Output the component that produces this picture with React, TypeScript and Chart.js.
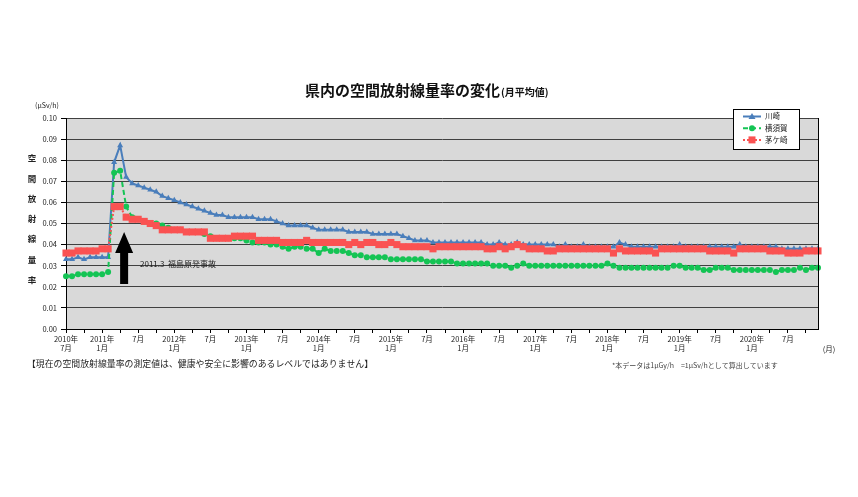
import React, { useEffect, useRef } from 'react';
import { Chart, registerables } from 'chart.js';
Chart.register(...registerables);

const FONT = '"Noto Sans CJK JP", "Noto Sans", sans-serif';

const TITLE_MAIN = '県内の空間放射線量率の変化';
const TITLE_SUB = '(月平均値)';
const Y_LABEL_CHARS = ['空', '間', '放', '射', '線', '量', '率'];
const UNIT = '(μSv/h)';
const X_UNIT = '(月)';
const NOTE_LEFT = '【現在の空間放射線量率の測定値は、健康や安全に影響のあるレベルではありません】';
const NOTE_RIGHT = '*本データは1μGy/h　=1μSv/hとして算出しています';
const EVENT_TEXT = '2011.3  福島原発事故';
const EVENT_INDEX = 8;
const SERIES_NAMES = ['川崎', '横須賀', '茅ケ崎'];

const START_YEAR = 2010;
const START_MONTH = 7;
const MONTH_COUNT = 126;

const X_TICK_LABELS = [
  ['2010年', '7月'], ['2011年', '1月'], ['7月', ''], ['2012年', '1月'], ['7月', ''],
  ['2013年', '1月'], ['7月', ''], ['2014年', '1月'], ['7月', ''], ['2015年', '1月'], ['7月', ''],
  ['2016年', '1月'], ['7月', ''], ['2017年', '1月'], ['7月', ''], ['2018年', '1月'], ['7月', ''],
  ['2019年', '1月'], ['7月', ''], ['2020年', '1月'], ['7月', ''],
];

const KAWASAKI = [
  0.033, 0.033, 0.034, 0.033, 0.034, 0.034,
  0.034, 0.034, 0.079, 0.087, 0.072, 0.069, 0.068, 0.067, 0.066, 0.065, 0.063, 0.062,
  0.061, 0.060, 0.059, 0.058, 0.057, 0.056, 0.055, 0.054, 0.054, 0.053, 0.053, 0.053,
  0.053, 0.053, 0.052, 0.052, 0.052, 0.051, 0.050, 0.049, 0.049, 0.049, 0.049, 0.048,
  0.047, 0.047, 0.047, 0.047, 0.047, 0.046, 0.046, 0.046, 0.046, 0.045, 0.045, 0.045,
  0.045, 0.045, 0.044, 0.043, 0.042, 0.042, 0.042, 0.041, 0.041, 0.041, 0.041, 0.041,
  0.041, 0.041, 0.041, 0.041, 0.040, 0.040, 0.041, 0.040, 0.040, 0.041, 0.040, 0.040,
  0.040, 0.040, 0.040, 0.040, 0.039, 0.040, 0.039, 0.039, 0.040, 0.039, 0.039, 0.039,
  0.039, 0.039, 0.041, 0.040, 0.039, 0.039, 0.039, 0.039, 0.039, 0.039, 0.039, 0.039,
  0.040, 0.039, 0.039, 0.039, 0.039, 0.039, 0.039, 0.039, 0.039, 0.039, 0.040, 0.039,
  0.039, 0.039, 0.039, 0.039, 0.039, 0.038, 0.038, 0.038, 0.038, 0.038, 0.038, 0.038,
];

const YOKOSUKA = [
  0.025, 0.025, 0.026, 0.026, 0.026, 0.026,
  0.026, 0.027, 0.074, 0.075, 0.058, 0.053, 0.052, 0.051, 0.050, 0.050, 0.049, 0.048,
  0.047, 0.047, 0.046, 0.046, 0.046, 0.045, 0.044, 0.043, 0.043, 0.043, 0.043, 0.043,
  0.042, 0.041, 0.041, 0.041, 0.040, 0.040, 0.039, 0.038, 0.039, 0.039, 0.038, 0.038,
  0.036, 0.038, 0.037, 0.037, 0.037, 0.036, 0.035, 0.035, 0.034, 0.034, 0.034, 0.034,
  0.033, 0.033, 0.033, 0.033, 0.033, 0.033, 0.032, 0.032, 0.032, 0.032, 0.032, 0.031,
  0.031, 0.031, 0.031, 0.031, 0.031, 0.030, 0.030, 0.030, 0.029, 0.030, 0.031, 0.030,
  0.030, 0.030, 0.030, 0.030, 0.030, 0.030, 0.030, 0.030, 0.030, 0.030, 0.030, 0.030,
  0.031, 0.030, 0.029, 0.029, 0.029, 0.029, 0.029, 0.029, 0.029, 0.029, 0.029, 0.030,
  0.030, 0.029, 0.029, 0.029, 0.028, 0.028, 0.029, 0.029, 0.029, 0.028, 0.028, 0.028,
  0.028, 0.028, 0.028, 0.028, 0.027, 0.028, 0.028, 0.028, 0.029, 0.028, 0.029, 0.029,
];

const CHIGASAKI = [
  0.036, 0.036, 0.037, 0.037, 0.037, 0.037,
  0.038, 0.038, 0.058, 0.058, 0.053, 0.052, 0.052, 0.051, 0.050, 0.049, 0.047, 0.047,
  0.047, 0.047, 0.046, 0.046, 0.046, 0.046, 0.043, 0.043, 0.043, 0.043, 0.044, 0.044,
  0.044, 0.044, 0.042, 0.042, 0.042, 0.042, 0.041, 0.041, 0.041, 0.041, 0.042, 0.041,
  0.041, 0.041, 0.041, 0.041, 0.041, 0.040, 0.041, 0.040, 0.041, 0.041, 0.040, 0.040,
  0.041, 0.040, 0.039, 0.039, 0.039, 0.039, 0.039, 0.038, 0.039, 0.039, 0.039, 0.039,
  0.039, 0.039, 0.039, 0.039, 0.038, 0.038, 0.039, 0.038, 0.039, 0.040, 0.039, 0.038,
  0.038, 0.038, 0.037, 0.037, 0.038, 0.038, 0.038, 0.038, 0.038, 0.038, 0.038, 0.038,
  0.038, 0.036, 0.038, 0.037, 0.037, 0.037, 0.037, 0.037, 0.036, 0.038, 0.038, 0.038,
  0.038, 0.038, 0.038, 0.038, 0.038, 0.037, 0.037, 0.037, 0.037, 0.036, 0.038, 0.038,
  0.038, 0.038, 0.038, 0.037, 0.037, 0.037, 0.036, 0.036, 0.036, 0.037, 0.037, 0.037,
];

const MONTHS: string[] = [];
for (let i = 0; i < MONTH_COUNT; i++) {
  const t = START_MONTH - 1 + i;
  MONTHS.push(`${START_YEAR + Math.floor(t / 12)}-${(t % 12) + 1}`);
}

const BLUE = '#4A7EBB';
const GREEN = '#14C454';
const RED = '#FA5252';

const PLOT = { left: 66, right: 818, top: 118, bottom: 329 };
const W = 858;
const H = 497;

function drawMarker(ctx: CanvasRenderingContext2D, style: string, x: number, y: number, color: string) {
  ctx.fillStyle = color;
  ctx.beginPath();
  if (style === 'triangle') {
    ctx.moveTo(x, y - 3.5);
    ctx.lineTo(x + 3.5, y + 2.5);
    ctx.lineTo(x - 3.5, y + 2.5);
    ctx.closePath();
  } else if (style === 'circle') {
    ctx.arc(x, y, 3, 0, Math.PI * 2);
  } else {
    ctx.rect(x - 3.5, y - 3.5, 7, 7);
  }
  ctx.fill();
}

const deco = {
  id: 'deco',
  beforeDraw(chart: any) {
    const { ctx, chartArea: a } = chart;
    ctx.save();
    ctx.fillStyle = '#ffffff';
    ctx.fillRect(0, 0, chart.width, chart.height);
    ctx.fillStyle = '#D9D9D9';
    ctx.fillRect(a.left, a.top, a.right - a.left, a.bottom - a.top);
    ctx.restore();
  },
  afterDraw(chart: any) {
    const { ctx, chartArea: a } = chart;
    const xs = chart.scales.x;
    ctx.save();
    // frame right edge
    ctx.strokeStyle = '#000';
    ctx.lineWidth = 1;
    ctx.beginPath();
    ctx.moveTo(Math.round(a.right) + 0.5, a.top);
    ctx.lineTo(Math.round(a.right) + 0.5, a.bottom);
    ctx.stroke();

    // title
    ctx.fillStyle = '#111';
    ctx.textBaseline = 'alphabetic';
    ctx.textAlign = 'left';
    ctx.font = `bold 15px ${FONT}`;
    const w1 = ctx.measureText(TITLE_MAIN).width;
    ctx.fillText(TITLE_MAIN, 305, 96);
    ctx.font = `bold 10px ${FONT}`;
    ctx.fillText(TITLE_SUB, 305 + w1 + 1, 96);

    // unit
    ctx.font = `7px ${FONT}`;
    ctx.textAlign = 'center';
    ctx.textBaseline = 'middle';
    ctx.fillStyle = '#222';
    ctx.fillText(UNIT, 47, 105);

    // vertical y label
    ctx.font = `bold 8.5px ${FONT}`;
    Y_LABEL_CHARS.forEach((c, i) => ctx.fillText(c, 32, 158 + i * 20.3));

    // x unit
    ctx.font = `7.5px ${FONT}`;
    ctx.fillText(X_UNIT, 829, 349);

    // event arrow
    const ax = xs.getPixelForValue(EVENT_INDEX) + 10;
    ctx.fillStyle = '#000';
    ctx.beginPath();
    ctx.moveTo(ax, 232);
    ctx.lineTo(ax + 9, 253);
    ctx.lineTo(ax + 4, 253);
    ctx.lineTo(ax + 4, 284);
    ctx.lineTo(ax - 4, 284);
    ctx.lineTo(ax - 4, 253);
    ctx.lineTo(ax - 9, 253);
    ctx.closePath();
    ctx.fill();
    ctx.font = `8px ${FONT}`;
    ctx.textAlign = 'left';
    ctx.fillStyle = '#222';
    ctx.fillText(EVENT_TEXT, 140, 264);

    // notes
    ctx.font = `8.9px ${FONT}`;
    ctx.fillStyle = '#222';
    ctx.fillText(NOTE_LEFT, 27, 364);
    ctx.font = `7px ${FONT}`;
    ctx.fillStyle = '#444';
    ctx.fillText(NOTE_RIGHT, 612, 365);

    // legend
    const lx = 733.5, ly = 109.5, lw = 66, lh = 40;
    ctx.fillStyle = '#fff';
    ctx.fillRect(lx, ly, lw, lh);
    ctx.strokeStyle = '#000';
    ctx.lineWidth = 1;
    ctx.strokeRect(lx, ly, lw, lh);
    const entries = [
      { name: SERIES_NAMES[0], color: BLUE, dash: [] as number[], marker: 'triangle' },
      { name: SERIES_NAMES[1], color: GREEN, dash: [5, 3], marker: 'circle' },
      { name: SERIES_NAMES[2], color: RED, dash: [2, 2], marker: 'rect' },
    ];
    entries.forEach((e, i) => {
      const y = 116.5 + i * 11.7;
      ctx.strokeStyle = e.color;
      ctx.lineWidth = 2;
      ctx.setLineDash(e.dash);
      ctx.beginPath();
      ctx.moveTo(743, y);
      ctx.lineTo(761, y);
      ctx.stroke();
      ctx.setLineDash([]);
      drawMarker(ctx, e.marker, 752, y, e.color);
      ctx.fillStyle = '#222';
      ctx.font = `7.5px ${FONT}`;
      ctx.textAlign = 'left';
      ctx.textBaseline = 'middle';
      ctx.fillText(e.name, 765, y);
    });
    ctx.restore();
  },
};

export default function App() {
  const ref = useRef<HTMLCanvasElement>(null);
  useEffect(() => {
    const chart = new Chart(ref.current as HTMLCanvasElement, {
      type: 'line',
      data: {
        labels: MONTHS,
        datasets: [
          {
            label: SERIES_NAMES[0], data: KAWASAKI, borderColor: BLUE, backgroundColor: BLUE,
            borderWidth: 2, pointStyle: 'triangle', pointRadius: 3.5, pointBorderWidth: 0,
            order: 2, clip: false, tension: 0,
          },
          {
            label: SERIES_NAMES[1], data: YOKOSUKA, borderColor: GREEN, backgroundColor: GREEN,
            borderWidth: 2, borderDash: [5, 3], pointStyle: 'circle', pointRadius: 3, pointBorderWidth: 0,
            order: 1, clip: false, tension: 0,
          },
          {
            label: SERIES_NAMES[2], data: CHIGASAKI, borderColor: RED, backgroundColor: RED,
            borderWidth: 2, borderDash: [2, 2], pointStyle: 'rect', pointRadius: 5, pointBorderWidth: 0,
            order: 0, clip: false, tension: 0,
          },
        ],
      } as any,
      options: {
        responsive: false,
        animation: false,
        devicePixelRatio: 1,
        layout: { padding: { left: 0, right: W - PLOT.right, top: PLOT.top, bottom: H - PLOT.bottom - 30 } },
        plugins: { legend: { display: false }, tooltip: { enabled: false }, title: { display: false } },
        scales: {
          x: {
            type: 'category',
            offset: false,
            afterFit: (s: any) => { s.height = 30; },
            grid: {
              drawOnChartArea: false,
              drawTicks: true,
              tickLength: 4,
              tickColor: (c: any) => (c.index % 3 === 0 ? '#000' : 'rgba(0,0,0,0)'),
            },
            border: { color: '#000', width: 1 },
            ticks: {
              autoSkip: false,
              maxRotation: 0,
              minRotation: 0,
              padding: 2,
              color: '#222',
              font: { family: FONT, size: 7.5 },
              callback: (_v: any, i: number) => (i % 6 === 0 ? X_TICK_LABELS[i / 6] || '' : ''),
            },
          },
          y: {
            min: 0,
            max: 0.1,
            afterFit: (s: any) => { s.width = PLOT.left; },
            grid: { color: '#404040', lineWidth: 1, tickLength: 5, tickColor: '#000' },
            border: { color: '#000', width: 1 },
            ticks: {
              stepSize: 0.01,
              padding: 4,
              color: '#222',
              font: { family: FONT, size: 7.5 },
              callback: (v: any) => Number(v).toFixed(2),
            },
          },
        },
      } as any,
      plugins: [deco],
    });
    return () => chart.destroy();
  }, []);
  return (
    <div style={{ position: 'absolute', left: 0, top: 0, width: W, height: H, background: '#fff' }}>
      <canvas ref={ref} width={W} height={H} style={{ display: 'block', width: W, height: H }} />
    </div>
  );
}
